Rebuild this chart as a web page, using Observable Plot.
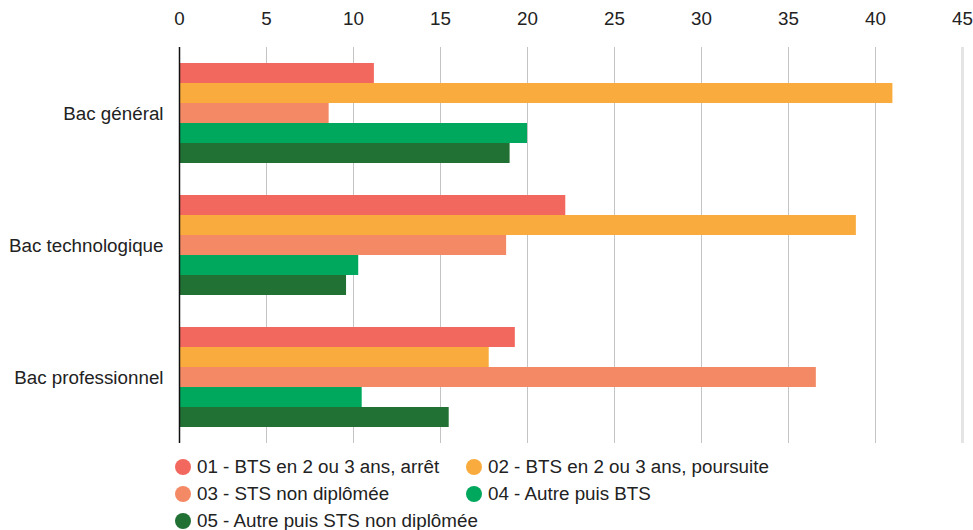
<!DOCTYPE html>
<html>
<head>
<meta charset="utf-8">
<script src="https://cdn.jsdelivr.net/npm/d3@7"></script>
<script src="https://cdn.jsdelivr.net/npm/@observablehq/plot@0.6"></script>
<style>
  html, body { margin: 0; padding: 0; background: #fff; }
  body { width: 973px; height: 530px; overflow: hidden; font-family: "Liberation Sans", Arial, sans-serif; color: #222; }
  #legend { margin-left: 175px; display: flex; flex-wrap: wrap; width: 760px; margin-top: 6px; }
  .item { display: flex; align-items: center; height: 22px; margin-bottom: 5px; font-size: 18.8px; white-space: nowrap; }
  .item .dot { width: 16px; height: 16px; border-radius: 50%; margin-right: 6px; flex: none; }
  .c1 { width: 291px; }
  .c2 { width: 420px; }
  .c3 { width: 500px; }
</style>
</head>
<body>
<div id="chart"></div>
<div id="legend"></div>
<script>
const categories = ["Bac général", "Bac technologique", "Bac professionnel"];
const series = [
  "01 - BTS en 2 ou 3 ans, arrêt",
  "02 - BTS en 2 ou 3 ans, poursuite",
  "03 - STS non diplômée",
  "04 - Autre puis BTS",
  "05 - Autre puis STS non diplômée"
];
const colors = ["#F2675E", "#F9AC3D", "#F48A65", "#00A85E", "#227134"];
const valuesGeneral = [11.2, 41.0, 8.6, 20.0, 19.0];
const valuesTechno = [22.2, 38.9, 18.8, 10.3, 9.6];
const valuesPro = [19.3, 17.8, 36.6, 10.5, 15.5];
const xTicks = [0, 5, 10, 15, 20, 25, 30, 35, 40, 45];

const allValues = [valuesGeneral, valuesTechno, valuesPro];
const data = [];
categories.forEach((c, i) => series.forEach((s, j) => data.push({cat: c, serie: s, value: allValues[i][j]})));

const chart = Plot.plot({
  width: 973,
  height: 450,
  marginTop: 46,
  marginBottom: 7,
  marginLeft: 179,
  marginRight: 11,
  style: { fontFamily: "\"Liberation Sans\", Arial, sans-serif", fontSize: "18.8px", color: "#222", background: "#fff" },
  x: { domain: [0, 45], ticks: xTicks, axis: "top", tickSize: 0, tickPadding: 23, label: null },
  y: { domain: series, axis: null, paddingInner: 0.02, paddingOuter: 0.74 },
  fy: { domain: categories, padding: 0, axis: "left", tickSize: 0, tickPadding: 16, label: null },
  color: { domain: series, range: colors },
  marks: [
    Plot.ruleX(xTicks.filter(d => d > 0 && d < 45), { stroke: "#c4c4c4", strokeWidth: 1 }),
    Plot.ruleX([45], { stroke: "#e4e4e4", strokeWidth: 3 }),
    Plot.barX(data, { fy: "cat", y: "serie", x: "value", fill: "serie" }),
    Plot.ruleX([0], { stroke: "#111", strokeWidth: 1.5 })
  ]
});
document.getElementById("chart").appendChild(chart);

const legend = document.getElementById("legend");
series.forEach((s, i) => {
  const it = document.createElement("div");
  it.className = "item " + (i === 4 ? "c3" : (i % 2 === 0 ? "c1" : "c2"));
  const dot = document.createElement("span");
  dot.className = "dot";
  dot.style.background = colors[i];
  const t = document.createElement("span");
  t.textContent = s;
  it.appendChild(dot);
  it.appendChild(t);
  legend.appendChild(it);
});
</script>
</body>
</html>
